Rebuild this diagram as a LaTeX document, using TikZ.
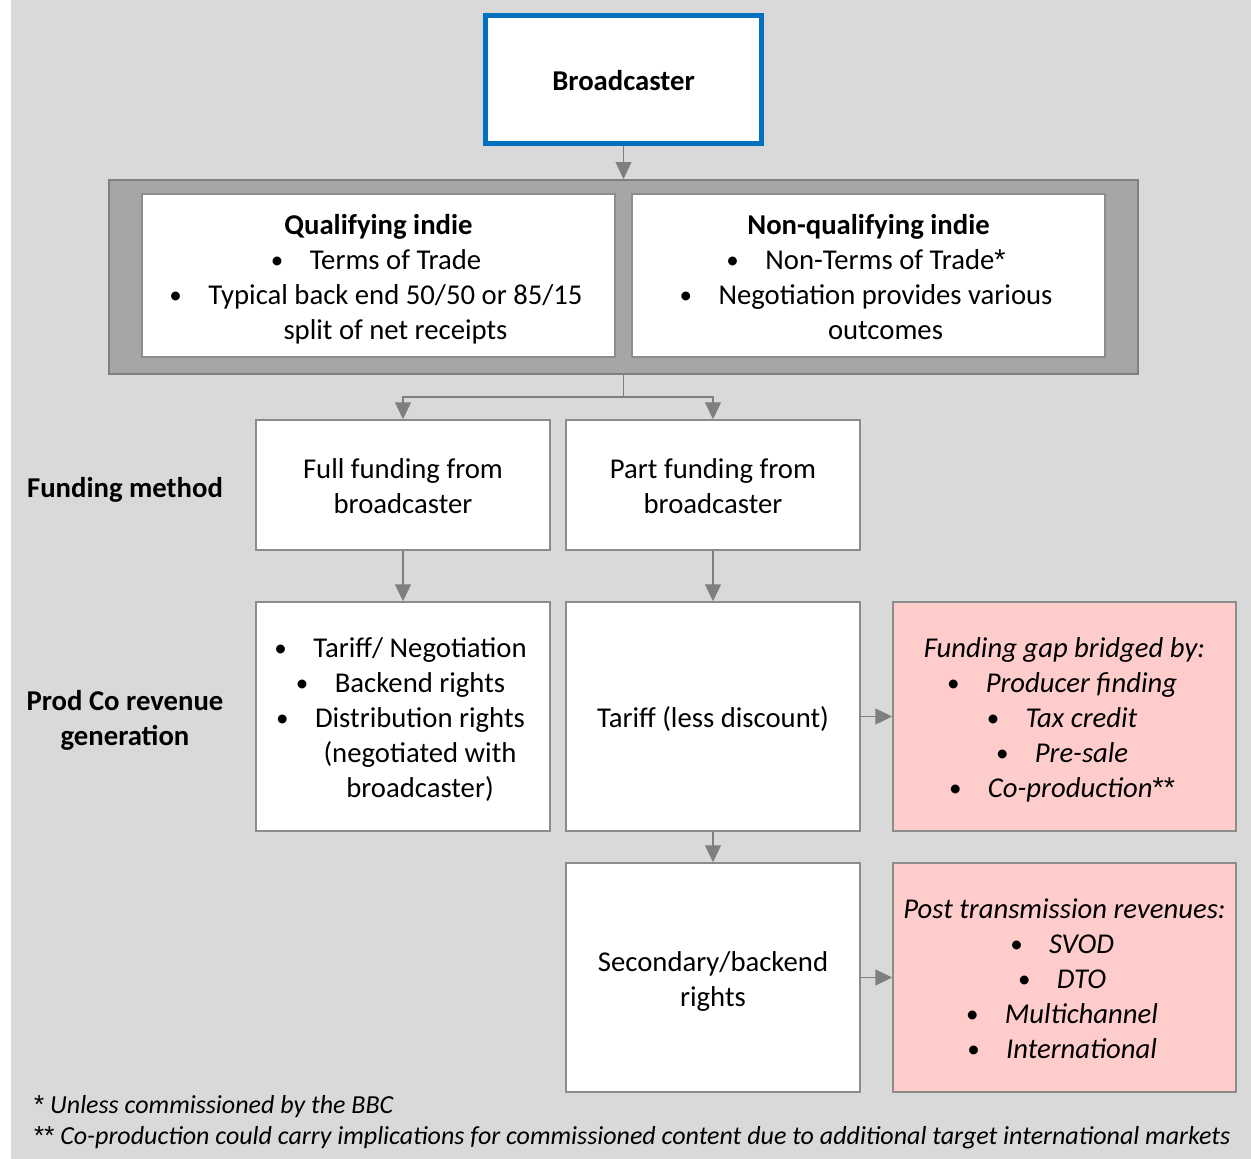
\documentclass[tikz,border=0pt]{standalone}
\usepackage{fontspec}
\setmainfont{Carlito}
\newfontfamily\astfont{Liberation Sans}
\usetikzlibrary{arrows.meta}
\definecolor{bgc}{HTML}{D9D9D9}
\definecolor{outerc}{HTML}{A6A6A6}
\definecolor{edgec}{HTML}{8C8C8C}
\definecolor{arrc}{HTML}{7F7F7F}
\definecolor{bluec}{HTML}{0070C0}
\definecolor{pinkc}{HTML}{FFCCCC}
\newcommand\bitem{\makebox[34pt][l]{\hspace*{-5pt}{\fontsize{25}{25}\selectfont\raisebox{1pt}{\textbullet}}}}
\newcommand\hang{\hspace*{34pt}}
\newcommand\fst{\rule{0pt}{28pt}}
\newcommand\lst{\rule[-6pt]{0pt}{6pt}}
\newcommand\myast{{\astfont\upshape *}}
\tikzset{
  txt/.style={font=\fontsize{28.7}{35}\selectfont, align=center, inner sep=0pt},
  wbox/.style={txt, draw=edgec, line width=1.5pt, fill=white},
  pbox/.style={txt, draw=edgec, line width=1.5pt, fill=pinkc},
  arr/.style={draw=arrc, line width=1.3pt, -{Triangle[length=17pt,width=16pt]}},
  plain/.style={draw=arrc, line width=1.3pt},
  foot/.style={font=\fontsize{26}{30}\selectfont\itshape, inner sep=0pt, anchor=base west}
}
\begin{document}
\begin{tikzpicture}[x=1pt,y=-1pt]
\useasboundingbox (0,0) rectangle (1251,1159);
\fill[bgc] (11,0) rectangle (1251,1159);
% broadcaster
\node[txt, draw=bluec, line width=5pt, fill=white, minimum width=276pt, minimum height=128pt] (bc) at (623.5,79.5) {\fst\textbf{Broadcaster}\lst};
% outer grey box
\node[draw=arrc, line width=2pt, fill=outerc, minimum width=1029pt, minimum height=194pt, inner sep=0pt] (outer) at (623.5,277) {};
\node[wbox, minimum width=473pt, minimum height=163pt] (qual) at (378.5,275.5) {\fst\textbf{Qualifying indie}\\\bitem Terms of Trade\\\bitem Typical back end 50/50 or 85/15\\\hang split of net receipts\lst};
\node[wbox, minimum width=473pt, minimum height=163pt] (nonq) at (868.5,275.5) {\fst\textbf{Non-qualifying indie}\\\bitem Non-Terms of Trade\myast\\\bitem Negotiation provides various\\\hang outcomes\lst};
% funding
\node[wbox, minimum width=294pt, minimum height=130pt] (full) at (403,485) {\fst Full funding from\\broadcaster\lst};
\node[wbox, minimum width=294pt, minimum height=130pt] (part) at (713,485) {\fst Part funding from\\broadcaster\lst};
% revenue
\node[wbox, minimum width=294pt, minimum height=229pt] (rev) at (403,716.5) {\fst\bitem Tariff/ Negotiation\\\bitem Backend rights\\\bitem Distribution rights\\\hang (negotiated with\\\hang broadcaster)\lst};
\node[wbox, minimum width=294pt, minimum height=229pt] (tariff) at (713,716.5) {\fst Tariff (less discount)\lst};
\node[pbox, minimum width=343pt, minimum height=229pt] (gap) at (1064.5,716.5) {\fst\itshape Funding gap bridged by:\\\itshape\bitem Producer finding\\\itshape\bitem Tax credit\\\itshape\bitem Pre-sale\\\itshape\bitem Co-production\myast\myast\lst};
\node[wbox, minimum width=294pt, minimum height=229pt] (sec) at (713,977.5) {\fst Secondary/backend\\rights\lst};
\node[pbox, minimum width=343pt, minimum height=229pt] (post) at (1064.5,977.5) {\fst\itshape Post transmission revenues:\\\itshape\bitem SVOD\\\itshape\bitem DTO\\\itshape\bitem Multichannel\\\itshape\bitem International\lst};
% labels
\node[txt] (lfund) at (125,486) {\fst\textbf{Funding method}\lst};
\node[txt] (lrev) at (125,717) {\fst\textbf{Prod Co revenue}\\\textbf{generation}\lst};
% connectors
\draw[arr] (bc.south) -- (outer.north);
\coordinate (split) at (623.5,397);
\draw[plain] (outer.south) -- (split);
\draw[arr] (split) -| (full.north);
\draw[arr] (split) -| (part.north);
\draw[arr] (full.south) -- (rev.north);
\draw[arr] (part.south) -- (tariff.north);
\draw[arr] (tariff.east) -- (gap.west);
\draw[arr] (tariff.south) -- (sec.north);
\draw[arr] (sec.east) -- (post.west);
% footnotes
\node[foot] (f1) at (34,1113) {\myast\ Unless commissioned by the BBC};
\node[foot] (f2) at (34,1144) {\myast\myast\ Co-production could carry implications for commissioned content due to additional target international markets};
\end{tikzpicture}
\end{document}
